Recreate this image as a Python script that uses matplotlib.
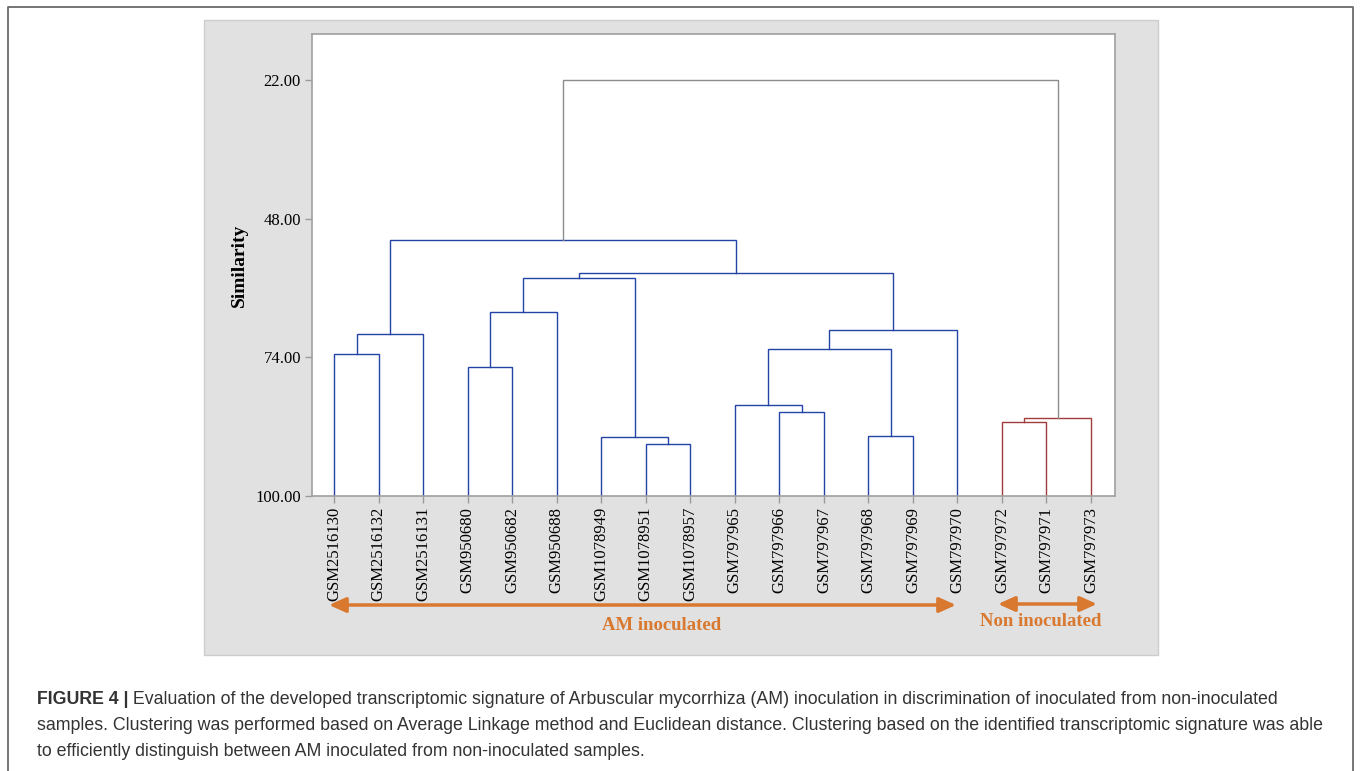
import matplotlib.pyplot as plt
from matplotlib.patches import Rectangle, FancyArrowPatch
from matplotlib.lines import Line2D

# sample names in dendrogram order
leaves = ['GSM2516130', 'GSM2516132', 'GSM2516131', 'GSM950680', 'GSM950682',
          'GSM950688', 'GSM1078949', 'GSM1078951', 'GSM1078957', 'GSM797965',
          'GSM797966', 'GSM797967', 'GSM797968', 'GSM797969', 'GSM797970',
          'GSM797972', 'GSM797971', 'GSM797973']
groups = ['AM'] * 15 + ['Non'] * 3

# merges: (left node, right node, similarity); new nodes numbered from 18 on
merge_left = [0, 18, 3, 20, 7, 6, 21, 10, 9, 12, 26, 28, 24, 19, 15, 32, 31]
merge_right = [1, 2, 4, 5, 8, 22, 23, 11, 25, 13, 27, 14, 29, 30, 16, 17, 33]
merge_sim = [73.3, 69.6, 75.8, 65.4, 90.2, 89.0, 59.1, 84.3, 82.9, 88.7,
             72.4, 68.9, 58.2, 51.9, 86.2, 85.4, 22.0]

yticks = [22, 48, 74, 100]

colors = {'AM': '#2443a6', 'Non': '#a23b3b', 'mix': '#8c8c8c'}

fig = plt.figure(figsize=(13.6, 7.71), dpi=100)
serif = 'Liberation Serif'

# outer frame (open at bottom)
fig.add_artist(Line2D([8/1360, 8/1360, 1353/1360, 1353/1360], [0, 1 - 7/771, 1 - 7/771, 0],
                      transform=fig.transFigure, color='#6a6a6a', lw=1.3))
# grey chart panel
fig.add_artist(Rectangle((204/1360, 116/771), 954/1360, 635/771, transform=fig.transFigure,
                         facecolor='#e1e1e1', edgecolor='#cdcdcd', lw=1, zorder=0))

ax = fig.add_axes([312/1360, 275/771, 803/1360, 461.7/771])
ax.set_facecolor('white')

# node positions
xpos = {i: float(i) for i in range(len(leaves))}
ypos = {i: 100.0 for i in range(len(leaves))}
grp = {i: groups[i] for i in range(len(leaves))}
n = len(leaves)
for k, (a, b, s) in enumerate(zip(merge_left, merge_right, merge_sim)):
    node = n + k
    g = grp[a] if grp[a] == grp[b] else 'mix'
    ax.plot([xpos[a], xpos[a], xpos[b], xpos[b]], [ypos[a], s, s, ypos[b]],
            color=colors[g], lw=1.0, solid_joinstyle='miter')
    xpos[node] = (xpos[a] + xpos[b]) / 2
    ypos[node] = s
    grp[node] = g

ax.set_xlim(-0.5, 17.54)
ax.set_ylim(100, 13.33)
ax.set_yticks(yticks)
ax.set_yticklabels(['%.2f' % v for v in yticks], fontfamily=serif, fontsize=12)
ax.set_xticks(range(n))
ax.set_xticklabels(leaves, rotation=90, fontfamily=serif, fontsize=12)
ax.tick_params(axis='both', color='#9a9a9a', length=5, width=1, pad=3)
for sp in ax.spines.values():
    sp.set_color('#a0a0a0')
    sp.set_linewidth(1.2)
ax.set_ylabel('Similarity', fontfamily=serif, fontsize=14, fontweight='bold', labelpad=5)

# group arrows
orange = '#d9782f'
def arrow(x0, x1, y):
    fig.add_artist(FancyArrowPatch((x0/1360, 1 - y/771), (x1/1360, 1 - y/771),
                                   transform=fig.transFigure, color=orange, lw=2.5,
                                   arrowstyle='<|-|>,head_length=10,head_width=4.5',
                                   mutation_scale=1, shrinkA=0, shrinkB=0))
arrow(329, 956, 605)
arrow(998, 1097, 604)
fig.text(662/1360, 1 - 625/771, 'AM inoculated', fontfamily=serif, fontsize=13.5,
         fontweight='bold', color=orange, ha='center', va='center')
fig.text(1041/1360, 1 - 621/771, 'Non inoculated', fontfamily=serif, fontsize=13.5,
         fontweight='bold', color=orange, ha='center', va='center')

# caption
cap = '#333333'
cf = 'Liberation Sans'
cs = 12.8
line1 = (' Evaluation of the developed transcriptomic signature of Arbuscular mycorrhiza (AM) '
         'inoculation in discrimination of inoculated from non-inoculated')
line2 = ('samples. Clustering was performed based on Average Linkage method and Euclidean distance. '
         'Clustering based on the identified transcriptomic signature was able')
line3 = 'to efficiently distinguish between AM inoculated from non-inoculated samples.'
t = fig.text(37/1360, 1 - 699/771, 'FIGURE 4 |', fontfamily=cf, fontsize=cs,
             fontweight='bold', color=cap, va='center')
ax.annotate(line1, xy=(1, 0.5), xycoords=t, fontfamily=cf, fontsize=cs, color=cap,
            va='center', ha='left', annotation_clip=False)
fig.text(37/1360, 1 - 725/771, line2, fontfamily=cf, fontsize=cs, color=cap, va='center')
fig.text(37/1360, 1 - 751/771, line3, fontfamily=cf, fontsize=cs, color=cap, va='center')

fig.savefig('out.png', dpi=100)
